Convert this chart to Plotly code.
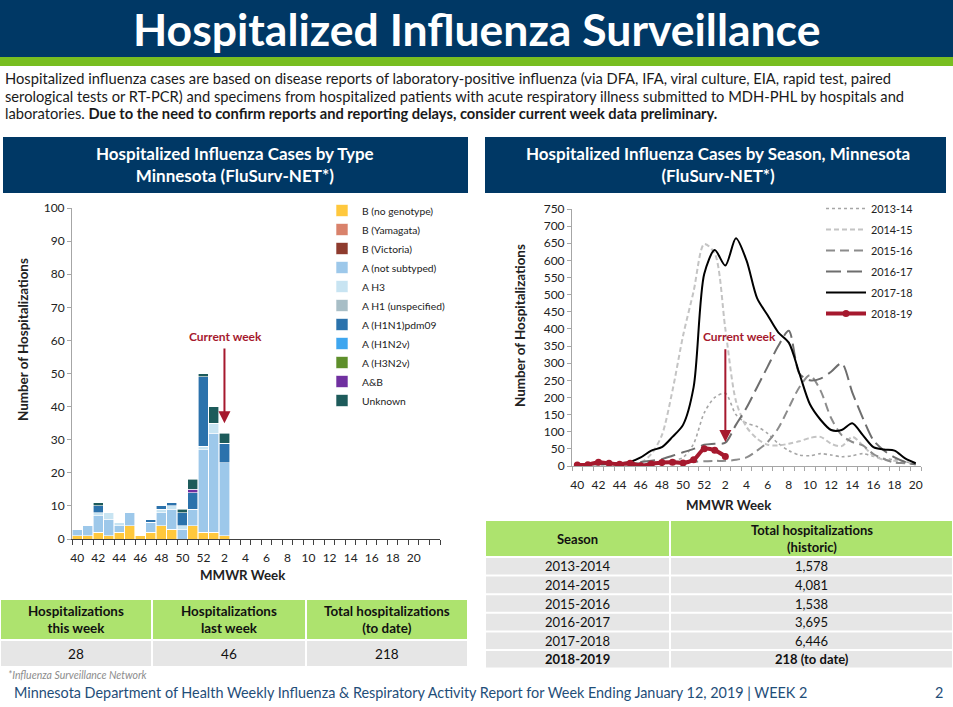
import plotly.graph_objects as go

W, H = 953, 707
NAVY = "#003865"
GREEN_BAR = "#78BE20"
TABLE_GREEN = "#ADE36E"
TABLE_GRAY = "#E6E6E6"
CRIMSON = "#A6192E"
FONT = "Lato, 'Open Sans', sans-serif"

# MMWR weeks of the season (week 40 through week 20)
weeks = ["40", "41", "42", "43", "44", "45", "46", "47", "48", "49", "50", "51", "52",
         "1", "2", "3", "4", "5", "6", "7", "8", "9", "10", "11", "12", "13", "14",
         "15", "16", "17", "18", "19", "20"]

# --- cases by type, 2018-19 season (weeks 40 .. 2) ---
bar_weeks = weeks[:15]
b_no_genotype = [1, 1, 2, 1, 2, 4, 1, 2, 4, 3, 0, 4, 2, 2, 1]
b_yamagata = [0] * 15
b_victoria = [0] * 15
a_not_subtyped = [2, 3, 5, 5, 2, 4, 0, 3, 4, 6, 3, 5, 25, 30, 22]
a_h3 = [0, 0, 1, 2, 1, 0, 0, 0, 1, 1, 1, 0, 1, 3, 0]
a_h1_unspec = [0] * 15
a_h1n1pdm09 = [0, 0, 2, 0, 0, 0, 0, 1, 1, 1, 4, 5, 21, 0, 6]
a_h1n2v = [0] * 15
a_h3n2v = [0] * 15
a_and_b = [0, 0, 0, 0, 0, 0, 0, 0, 0, 0, 0, 1, 0, 0, 0]
unknown = [0, 0, 1, 0, 0, 0, 0, 0, 0, 0, 1, 3, 1, 5, 3]

bar_series = [
    ("B (no genotype)", b_no_genotype, "#FFC83D"),
    ("B (Yamagata)", b_yamagata, "#D9826B"),
    ("B (Victoria)", b_victoria, "#8E3B2E"),
    ("A (not subtyped)", a_not_subtyped, "#9DC8EA"),
    ("A H3", a_h3, "#C8E4F2"),
    ("A H1 (unspecified)", a_h1_unspec, "#A8BEC6"),
    ("A (H1N1)pdm09", a_h1n1pdm09, "#2B72AC"),
    ("A (H1N2v)", a_h1n2v, "#3EA6EF"),
    ("A (H3N2v)", a_h3n2v, "#5E8F2B"),
    ("A&B", a_and_b, "#7030A0"),
    ("Unknown", unknown, "#1D5B5B"),
]

# --- hospitalizations by season ---
s2013_14 = [2, 2, 2, 3, 3, 3, 4, 5, 8, 15, 25, 65, 155, 200, 212, 150, 125, 115, 95, 66,
            45, 32, 30, 36, 32, 27, 30, 36, 28, 22, 18, 12, 8]
s2014_15 = [3, 3, 4, 4, 5, 6, 10, 35, 90, 220, 380, 510, 648, 620, 400, 190, 114, 80, 62, 60,
            65, 72, 82, 85, 65, 58, 85, 60, 30, 18, 15, 10, 6]
s2015_16 = [5, 5, 5, 6, 6, 8, 8, 10, 10, 12, 12, 12, 14, 15, 15, 18, 25, 45, 70, 110,
            170, 230, 265, 220, 140, 90, 70, 60, 35, 20, 10, 8, 5]
s2016_17 = [5, 5, 6, 7, 8, 10, 12, 15, 20, 30, 40, 50, 62, 65, 68, 120, 170, 230, 290, 350,
            395, 270, 250, 255, 275, 300, 215, 140, 75, 45, 25, 12, 5]
s2017_18 = [5, 5, 8, 7, 8, 12, 25, 45, 55, 85, 120, 230, 560, 630, 585, 665, 600, 490, 440, 390,
            360, 270, 180, 135, 105, 105, 125, 90, 55, 48, 45, 22, 8]
s2018_19 = [3, 4, 11, 8, 5, 8, 1, 6, 10, 11, 9, 18, 50, 46, 28]

line_series = [
    ("2013-14", s2013_14, "#A6A6A6", "dot", 1.6),
    ("2014-15", s2014_15, "#C4C4C4", "5px,3px", 2),
    ("2015-16", s2015_16, "#8C8C8C", "9px,5px", 2),
    ("2016-17", s2016_17, "#6E6E6E", "15px,6px", 2),
    ("2017-18", s2017_18, "#000000", "solid", 2),
]

# --- tables ---
summary_headers = ["Hospitalizations<br>this week", "Hospitalizations<br>last week",
                   "Total hospitalizations<br>(to date)"]
summary_values = ["28", "46", "218"]

seasons = ["2013-2014", "2014-2015", "2015-2016", "2016-2017", "2017-2018", "2018-2019"]
season_totals = ["1,578", "4,081", "1,538", "3,695", "6,446", "218 (to date)"]

intro_lines = [
    "Hospitalized influenza cases are based on disease reports of laboratory-positive influenza "
    "(via DFA, IFA, viral culture, EIA, rapid test, paired",
    "serological tests or RT-PCR) and specimens from hospitalized patients with acute "
    "respiratory illness submitted to MDH-PHL by hospitals and",
    "laboratories. <b>Due to the need to confirm reports and reporting delays, consider current "
    "week data preliminary.</b>",
]


def py(y):
    return 1 - y / H


def px(x):
    return x / W


fig = go.Figure()

idx = {w: i for i, w in enumerate(weeks)}

for name, vals, color in bar_series:
    fig.add_trace(go.Bar(
        x=[idx[w] for w in bar_weeks], y=vals, name=name,
        marker=dict(color=color, line=dict(color="white", width=0.6)),
        xaxis="x", yaxis="y", legend="legend",
    ))

for name, vals, color, dash, width in line_series:
    fig.add_trace(go.Scatter(
        x=[idx[w] for w in weeks], y=vals, name=name, mode="lines", legendgroup=name,
        line=dict(color=color, dash=dash, width=width, shape="spline", smoothing=0.8),
        xaxis="x2", yaxis="y2", legend="legend2",
    ))

fig.add_trace(go.Scatter(
    x=[idx[w] for w in weeks[:len(s2018_19)]], y=s2018_19, name="2018-19",
    mode="lines+markers", legendgroup="2018-19",
    line=dict(color=CRIMSON, width=4, shape="spline", smoothing=0.8),
    marker=dict(color=CRIMSON, size=7),
    xaxis="x2", yaxis="y2", legend="legend2",
))

tick_font = dict(family=FONT, size=12, color="#222222")
week_labels = [(i, weeks[i]) for i in range(0, len(weeks), 2)]

fig.update_layout(
    width=W, height=H, autosize=False,
    margin=dict(l=0, r=0, t=0, b=0, pad=0, autoexpand=False),
    paper_bgcolor="white", plot_bgcolor="white",
    font=dict(family=FONT, color="#222222"),
    barmode="stack", bargap=0.04,
    xaxis=dict(domain=[px(72), px(440)], range=[-0.5, 34.5], automargin=False,
               tickvals=[i for i, _ in week_labels], ticktext=[t for _, t in week_labels],
               ticks="", ticklabelstandoff=8, showline=True, linecolor="#404040", linewidth=1,
               showgrid=False, zeroline=False, tickfont=tick_font,
               minor=dict(tickvals=[i - 0.5 for i in range(36)], ticks="outside",
                          ticklen=5, tickcolor="#404040")),
    yaxis=dict(domain=[py(539), py(208)], range=[0, 100], dtick=10, automargin=False,
               ticks="outside", ticklen=4, tickcolor="#A6A6A6",
               showline=True, linecolor="#A6A6A6", showgrid=False, zeroline=False,
               tickfont=tick_font),
    xaxis2=dict(domain=[px(572), px(921)], range=[-0.5, 32.5], anchor="y2", automargin=False,
                tickvals=[i for i, _ in week_labels], ticktext=[t for _, t in week_labels],
                ticks="", ticklabelstandoff=8, showline=True, linecolor="#A6A6A6", linewidth=1,
                showgrid=False, zeroline=False, tickfont=tick_font,
                minor=dict(tickvals=[i - 0.5 for i in range(34)], ticks="outside",
                           ticklen=4, tickcolor="#A6A6A6")),
    yaxis2=dict(domain=[py(466), py(209)], range=[0, 750], dtick=50, anchor="x2",
                automargin=False, ticks="outside", ticklen=4, tickcolor="#A6A6A6",
                showline=True, linecolor="#A6A6A6", showgrid=False, zeroline=False,
                tickfont=tick_font),
    legend=dict(x=px(322), y=py(196), xanchor="left", yanchor="top",
                traceorder="normal", tracegroupgap=0, itemwidth=30,
                font=dict(family=FONT, size=10.3, color="#222222"),
                bgcolor="rgba(0,0,0,0)"),
    legend2=dict(x=px(821), y=py(194), xanchor="left", yanchor="top",
                 traceorder="grouped", tracegroupgap=2, itemwidth=40,
                 font=dict(family=FONT, size=10.8, color="#222222"),
                 bgcolor="rgba(0,0,0,0)"),
    showlegend=True,
)

shapes = [
    dict(type="rect", xref="paper", yref="paper", x0=0, x1=1, y0=py(57), y1=1,
         fillcolor=NAVY, line_width=0, layer="below"),
    dict(type="rect", xref="paper", yref="paper", x0=0, x1=1, y0=py(66), y1=py(57),
         fillcolor=GREEN_BAR, line_width=0, layer="below"),
    dict(type="rect", xref="paper", yref="paper", x0=px(3), x1=px(468), y0=py(193), y1=py(137),
         fillcolor=NAVY, line_width=0, layer="below"),
    dict(type="rect", xref="paper", yref="paper", x0=px(485), x1=px(946), y0=py(193), y1=py(137),
         fillcolor=NAVY, line_width=0, layer="below"),
]

ann = []


def text(x, y, s, size, color="#222222", xanchor="center", yanchor="middle", **kw):
    ann.append(dict(x=px(x), y=py(y), xref="paper", yref="paper", text=s, showarrow=False,
                    xanchor=xanchor, yanchor=yanchor,
                    font=dict(family=FONT, size=size, color=color), **kw))


def table(col_edges, row_edges, rows, fills, sizes):
    # col_edges / row_edges: pixel grid of the table; rows: list of rows of cell texts
    for r, row in enumerate(rows):
        y0, y1 = row_edges[r], row_edges[r + 1]
        for c, cell in enumerate(row):
            x0, x1 = col_edges[c], col_edges[c + 1]
            shapes.append(dict(type="rect", xref="paper", yref="paper",
                               x0=px(x0 + 1), x1=px(x1 - 1), y0=py(y1 - 1), y1=py(y0 + 1),
                               fillcolor=fills[r], line_width=0, layer="below"))
            text((x0 + x1) / 2, (y0 + y1) / 2, cell, sizes[r], "#111111")


table([0, 152, 306, 468], [599, 640, 667],
      [[f"<b>{h}</b>" for h in summary_headers], summary_values],
      [TABLE_GREEN, TABLE_GRAY], [13.4, 13.6])

season_rows = [["<b>Season</b>", "<b>Total hospitalizations<br>(historic)</b>"]]
for s, t in zip(seasons[:-1], season_totals[:-1]):
    season_rows.append([s, t])
season_rows.append([f"<b>{seasons[-1]}</b>", f"<b>{season_totals[-1]}</b>"])
right_row_edges = [520, 557] + [557 + 18.6 * (k + 1) for k in range(6)]
table([485, 670, 953], right_row_edges, season_rows,
      [TABLE_GREEN] + [TABLE_GRAY] * 6, [13] + [13] * 6)

text(476, 28, "<b>Hospitalized Influenza Surveillance</b>", 44.5, "white")
for k, line in enumerate(intro_lines):
    text(3, 78 + 17.6 * k, line, 14.7, "#1a1a1a", xanchor="left")
text(235, 165, "<b>Hospitalized Influenza Cases by Type<br>Minnesota (FluSurv-NET*)</b>",
     17, "white")
text(718, 165, "<b>Hospitalized Influenza Cases by Season, Minnesota<br>(FluSurv-NET*)</b>",
     17, "white")
text(23, 340, "<b>Number of Hospitalizations</b>", 13.4, textangle=-90)
text(243, 575, "<b>MMWR Week</b>", 13.3)
text(520, 326, "<b>Number of Hospitalizations</b>", 13.4, textangle=-90)
text(729, 505, "<b>MMWR Week</b>", 13.3)
text(225, 336, "<b>Current week</b>", 12, CRIMSON)
text(739, 336, "<b>Current week</b>", 12, CRIMSON)
text(6, 675, "<i>*Influenza Surveillance Network</i>", 10.5, "#8C8C8C", xanchor="left")
text(12, 692, "Minnesota Department of Health Weekly Influenza &amp; Respiratory Activity Report "
     "for Week Ending January 12, 2019 | WEEK 2", 14.4, "#1F4E79", xanchor="left")
text(939, 692, "2", 14.4, "#1F4E79")

# current-week arrows
ann.append(dict(x=idx["2"], y=35, ax=idx["2"], ay=58, xref="x", yref="y", axref="x", ayref="y",
                text="", showarrow=True, arrowhead=2, arrowsize=1.2, arrowwidth=2,
                arrowcolor=CRIMSON))
ann.append(dict(x=idx["2"], y=70, ax=idx["2"], ay=345, xref="x2", yref="y2", axref="x2",
                ayref="y2", text="", showarrow=True, arrowhead=2, arrowsize=1.2, arrowwidth=2,
                arrowcolor=CRIMSON))

fig.update_layout(shapes=shapes, annotations=ann)

fig.write_html(
    "out.html",
    config={"displayModeBar": False},
    post_script="document.body.style.margin='0px';"
                "document.body.style.overflow='hidden';"
                "document.documentElement.style.overflow='hidden';",
)
